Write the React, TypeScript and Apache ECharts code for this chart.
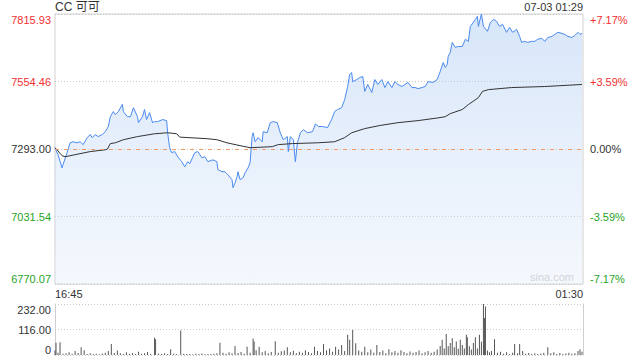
import React, { useEffect, useRef } from "react";
import * as echarts from "echarts";

const title = "CC 可可";
const stamp = "07-03 01:29";
const prevClose = 7293;

const leftTickLabels = ["6770.07", "7031.54", "7293.00", "7554.46", "7815.93"];
const rightTickLabels = ["-7.17%", "-3.59%", "0.00%", "+3.59%", "+7.17%"];
const timeLabels = ["16:45", "01:30"];
const volTickLabels = ["0", "116.00", "232.00"];

// minutes after 16:45
const priceTimes = [
  0, 3, 7, 8, 12, 15, 18, 22, 25, 28, 32, 35, 37, 40, 43, 47, 50, 53, 55, 58, 60, 63, 67, 68, 72, 75, 78, 82, 83, 87,
  89, 91, 94, 97, 99, 102, 107, 111, 112, 114, 116, 119, 122, 126, 129, 132, 134, 139, 142, 146, 149, 152, 157, 161,
  162, 166, 169, 172, 176, 177, 179, 181, 182, 184, 187, 189, 192, 194, 196, 197, 199, 202, 206, 207, 211, 214, 217,
  221, 224, 227, 231, 232, 234, 237, 239, 241, 244, 247, 251, 256, 259, 262, 266, 271, 275, 278, 281, 285, 288, 291,
  293, 295, 296, 300, 303, 306, 308, 311, 315, 318, 321, 325, 328, 331, 335, 338, 341, 345, 348, 351, 355, 358, 361,
  365, 368, 371, 376, 380, 383, 386, 388, 390, 391, 393, 395, 398, 401, 405, 408, 411, 413, 416, 418, 420, 421, 424,
  426, 430, 433, 436, 439, 442, 445, 449, 452, 455, 459, 462, 464, 467, 470, 474, 477, 480, 484, 487, 490, 494, 497,
  500, 504, 507, 510, 514, 517, 520, 522, 524,
];
const prices = [
  7298, 7271, 7220, 7232, 7279, 7317, 7321, 7317, 7321, 7310, 7337, 7349, 7337, 7349, 7341, 7349, 7360, 7380, 7418,
  7438, 7426, 7438, 7466, 7438, 7418, 7418, 7453, 7418, 7395, 7418, 7446, 7407, 7434, 7395, 7399, 7399, 7407, 7403,
  7356, 7298, 7279, 7283, 7263, 7244, 7224, 7244, 7236, 7279, 7283, 7259, 7263, 7244, 7251, 7244, 7213, 7205, 7205,
  7193, 7174, 7143, 7162, 7185, 7205, 7174, 7182, 7201, 7220, 7240, 7341, 7356, 7321, 7337, 7321, 7360, 7356, 7395,
  7399, 7395, 7356, 7329, 7341, 7283, 7341, 7329, 7244, 7317, 7356, 7368, 7356, 7360, 7390, 7380, 7380, 7376, 7407,
  7438, 7446, 7453, 7484, 7535, 7582, 7589, 7554, 7562, 7570, 7574, 7516, 7543, 7512, 7562, 7543, 7562, 7531, 7554,
  7531, 7554, 7543, 7535, 7543, 7551, 7531, 7531, 7527, 7531, 7535, 7554, 7551, 7562, 7593, 7628, 7609, 7621, 7652,
  7667, 7706, 7687, 7690, 7690, 7718, 7710, 7768, 7784, 7795, 7807, 7768, 7815.93, 7768, 7749, 7784, 7795, 7788,
  7768, 7776, 7745, 7764, 7745, 7756, 7729, 7706, 7710, 7706, 7710, 7710, 7718, 7722, 7710, 7725, 7729, 7737, 7745,
  7741, 7737, 7729, 7725, 7733, 7745, 7737, 7741,
];

const avgTimes = [
  0, 2, 7, 10, 20, 35, 50, 52, 55, 60, 68, 82, 99, 112, 121, 124, 151, 161, 171, 184, 194, 216, 222, 236, 261, 278,
  288, 295, 308, 323, 341, 361, 380, 388, 393, 405, 411, 421, 425, 431, 454, 487, 524,
];
const avgPrices = [
  7298, 7290, 7267, 7263, 7271, 7283, 7290, 7292, 7314, 7317, 7329, 7341, 7352, 7356, 7352, 7339, 7333, 7329, 7317,
  7306, 7298, 7302, 7310, 7314, 7317, 7321, 7337, 7356, 7372, 7384, 7395, 7403, 7413, 7418, 7430, 7446, 7465, 7492,
  7516, 7523, 7531, 7535, 7543,
];

const volTimes = [
  0, 1, 3, 5, 8, 11, 14, 17, 20, 23, 26, 29, 32, 35, 38, 41, 44, 47, 50, 53, 56, 59, 62, 65, 68, 71, 74, 77, 80, 83,
  86, 89, 92, 95, 99, 100, 103, 106, 109, 112, 115, 118, 121, 125, 128, 131, 134, 137, 140, 143, 146, 149, 152, 155,
  158, 161, 164, 167, 170, 173, 176, 179, 182, 185, 188, 191, 194, 197, 198, 200, 203, 206, 209, 212, 215, 219, 222,
  225, 228, 231, 234, 237, 240, 243, 246, 249, 252, 255, 258, 261, 264, 267, 270, 273, 276, 279, 282, 285, 288, 291,
  293, 296, 299, 302, 305, 308, 311, 314, 317, 320, 323, 326, 329, 332, 335, 338, 341, 344, 347, 350, 353, 356, 359,
  362, 365, 368, 371, 374, 377, 380, 383, 385, 387, 389, 391, 393, 395, 397, 399, 401, 403, 405, 407, 409, 410, 412,
  414, 416, 418, 420, 422, 424, 426, 427, 428, 430, 432, 434, 437, 440, 443, 446, 449, 452, 455, 457, 460, 462, 465,
  468, 471, 474, 477, 480, 483, 486, 490, 493, 496, 499, 502, 505, 508, 511, 514, 517, 520, 522, 524,
];
const volumes = [
  20, 56, 10, 58, 6, 8, 12, 6, 18, 9, 35, 22, 5, 8, 4, 6, 3, 7, 10, 18, 50, 9, 20, 8, 5, 12, 6, 9, 4, 15, 6, 8, 14, 5,
  78, 72, 7, 4, 8, 5, 26, 6, 5, 111, 6, 4, 5, 3, 6, 4, 7, 3, 5, 4, 6, 8, 56, 10, 6, 12, 8, 41, 9, 14, 6, 38, 10, 75,
  61, 22, 38, 12, 18, 8, 14, 63, 10, 17, 20, 35, 12, 19, 8, 15, 10, 22, 14, 8, 38, 18, 12, 50, 22, 30, 15, 38, 25,
  45, 18, 92, 69, 114, 53, 20, 15, 38, 12, 25, 10, 46, 14, 20, 8, 26, 12, 18, 10, 22, 14, 8, 16, 10, 14, 20, 8, 12,
  18, 10, 15, 25, 41, 69, 30, 96, 40, 55, 76, 35, 61, 28, 69, 45, 30, 92, 81, 40, 25, 55, 81, 30, 92, 60, 232, 168,
  221, 20, 12, 18, 72, 10, 15, 6, 12, 5, 10, 50, 8, 50, 18, 6, 9, 4, 8, 5, 7, 10, 35, 8, 12, 5, 9, 4, 7, 10, 6, 8,
  18, 26, 15,
];

const FONT = 'Arial, "Liberation Sans", "Noto Sans CJK SC", sans-serif';
const RED = "#f23030";
const GREEN = "#1fa51f";
const TEXT = "#333";
const BORDER = "#cfcfcf";

const STEP = 261.465;
const RANGE = 2 * STEP;

function tickIndex(v: number, min: number, step: number) {
  return Math.round((Number(v) - min) / step);
}
function tickColor(v: any) {
  const n = Number(v);
  if (n > 1) return RED;
  if (n < -1) return GREEN;
  return TEXT;
}

export default function App() {
  const ref = useRef<HTMLDivElement>(null);
  useEffect(() => {
    const chart = echarts.init(ref.current!, null, { renderer: "svg" });
    const priceData = priceTimes.map((t, i) => [t, prices[i] - prevClose]);
    const avgData = avgTimes.map((t, i) => [t, avgPrices[i] - prevClose]);
    const volData = volTimes.map((t, i) => [t, volumes[i]]);

    chart.setOption({
      animation: false,
      textStyle: { fontFamily: FONT },
      grid: [
        { left: 55, top: 14, width: 528, height: 270, show: true, borderColor: BORDER, borderWidth: 1, backgroundColor: "transparent" },
        { left: 55, top: 304, width: 528, height: 51, show: false },
      ],
      xAxis: [
        {
          type: "value",
          gridIndex: 0,
          min: 0,
          max: 525,
          interval: 525,
          axisLine: { show: false },
          axisTick: { show: false },
          splitLine: { show: false },
          axisLabel: {
            formatter: (v: number) => (v === 0 ? timeLabels[0] : timeLabels[1]),
            alignMinLabel: "left",
            alignMaxLabel: "right",
            margin: 4,
            fontSize: 11,
            color: TEXT,
            fontFamily: FONT,
          },
        },
        {
          type: "value",
          gridIndex: 1,
          min: 0,
          max: 525,
          show: false,
        },
      ],
      yAxis: [
        {
          type: "value",
          gridIndex: 0,
          min: -RANGE,
          max: RANGE,
          interval: STEP,
          axisLine: { show: false },
          axisTick: { show: false },
          splitLine: { show: true, lineStyle: { color: "#c8c8c8", type: [1, 2], width: 1 } },
          axisLabel: {
            formatter: (v: number) => leftTickLabels[tickIndex(v, -RANGE, STEP)] ?? "",
            color: tickColor,
            fontSize: 11,
            margin: 4,
            fontFamily: FONT,
            verticalAlignMaxLabel: "top",
            verticalAlignMinLabel: "bottom",
          },
        },
        {
          type: "value",
          gridIndex: 0,
          position: "right",
          min: -RANGE,
          max: RANGE,
          interval: STEP,
          axisLine: { show: false },
          axisTick: { show: false },
          splitLine: { show: false },
          axisLabel: {
            formatter: (v: number) => rightTickLabels[tickIndex(v, -RANGE, STEP)] ?? "",
            color: tickColor,
            fontSize: 11,
            margin: 7,
            fontFamily: FONT,
            verticalAlignMaxLabel: "top",
            verticalAlignMinLabel: "bottom",
          },
        },
        {
          type: "value",
          gridIndex: 1,
          min: 0,
          max: 232,
          interval: 116,
          axisLine: { show: true, lineStyle: { color: BORDER } },
          axisTick: { show: false },
          splitLine: { show: true, lineStyle: { color: "#c8c8c8", type: [1, 2], width: 1 } },
          axisLabel: {
            formatter: (v: number) => volTickLabels[tickIndex(v, 0, 116)] ?? "",
            color: TEXT,
            fontSize: 11,
            margin: 4,
            fontFamily: FONT,
            verticalAlignMaxLabel: "top",
            verticalAlignMinLabel: "bottom",
          },
        },
        {
          type: "value",
          gridIndex: 1,
          position: "right",
          min: 0,
          max: 232,
          interval: 116,
          axisLine: { show: true, lineStyle: { color: BORDER } },
          axisTick: { show: false },
          splitLine: { show: false },
          axisLabel: { show: false },
        },
      ],
      graphic: [
        { type: "text", left: 55, top: 1, style: { text: title, fontSize: 12, fill: TEXT, fontFamily: FONT } },
        { type: "text", right: 57, top: 1, style: { text: stamp, fontSize: 11, fill: TEXT, fontFamily: FONT } },
        { type: "text", right: 66, top: 271, style: { text: "sina.com", fontSize: 11, fill: "#c8c8c8", fontFamily: FONT } },
      ],
      series: [
        {
          type: "line",
          xAxisIndex: 0,
          yAxisIndex: 0,
          data: priceData,
          symbol: "none",
          lineStyle: { color: "#4a8af0", width: 1 },
          areaStyle: {
            origin: "start",
            color: new echarts.graphic.LinearGradient(0, 0, 0, 1, [
              { offset: 0, color: "rgba(160,195,242,0.6)" },
              { offset: 1, color: "rgba(225,235,250,0.5)" },
            ]),
          },
          markLine: {
            silent: true,
            symbol: ["none", "none"],
            label: { show: false },
            lineStyle: { color: "#ee9966", type: [4, 5], width: 1 },
            data: [{ yAxis: 0 }],
          },
          z: 3,
        },
        {
          type: "line",
          xAxisIndex: 0,
          yAxisIndex: 0,
          data: avgData,
          symbol: "none",
          lineStyle: { color: "#333", width: 1 },
          z: 4,
        },
        {
          type: "bar",
          xAxisIndex: 1,
          yAxisIndex: 2,
          data: volData,
          barWidth: 1,
          itemStyle: { color: "#555" },
        },
      ],
    });
    return () => chart.dispose();
  }, []);
  return <div ref={ref} style={{ position: "absolute", left: 0, top: 0, width: 640, height: 360 }} />;
}
